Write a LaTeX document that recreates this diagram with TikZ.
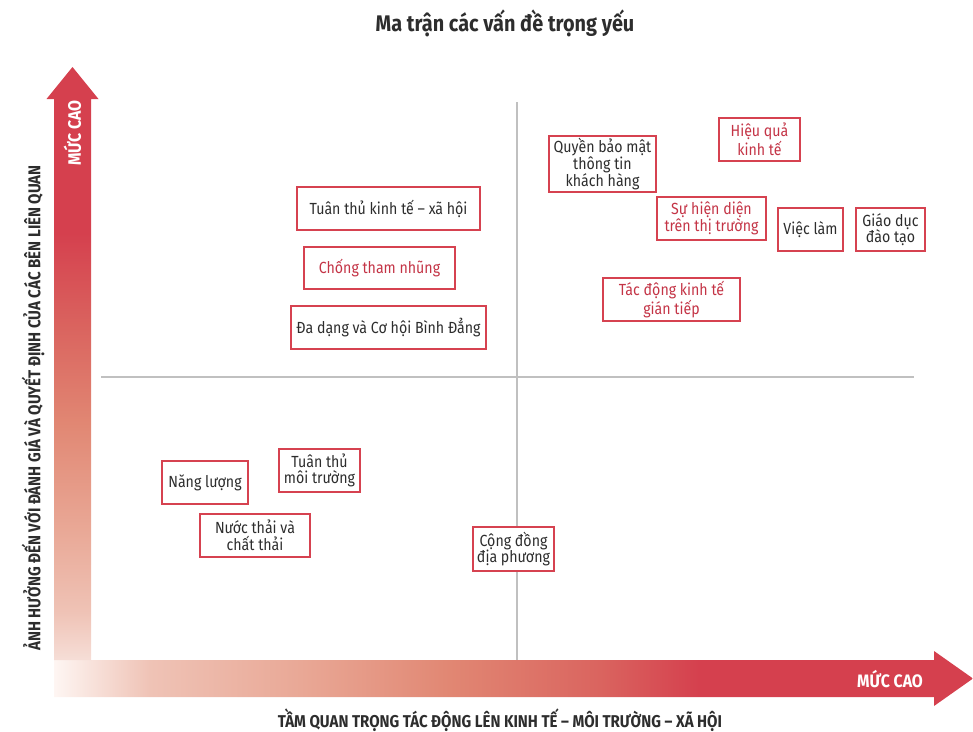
\documentclass[tikz,border=0pt]{standalone}
\usepackage{fontspec}
\setmainfont[FakeStretch=0.88]{Fira Sans}
\usepackage{xcolor}

\definecolor{axred}{RGB}{213,64,78}
\definecolor{fadecoral}{RGB}{218,100,95}
\definecolor{fadesalmon}{RGB}{225,135,115}
\definecolor{fadepink}{RGB}{233,168,150}
\definecolor{fadepale}{RGB}{239,195,182}
\definecolor{fadelight}{RGB}{246,222,215}
\definecolor{fadewhite}{RGB}{254,246,243}
\definecolor{boxred}{RGB}{214,66,80}
\definecolor{textdark}{RGB}{45,45,45}
\definecolor{textred}{RGB}{196,52,70}
\definecolor{splitgray}{RGB}{192,192,192}

% shadings for the two axis arrows (path box = 25bp..75bp)
\pgfdeclareverticalshading{yfade}{100bp}{color(0bp)=(fadelight); color(25bp)=(fadelight);
  color(29bp)=(fadepale); color(36bp)=(fadepink); color(45bp)=(fadesalmon);
  color(53bp)=(fadecoral); color(61bp)=(axred); color(100bp)=(axred)}
\pgfdeclarehorizontalshading{xfade}{100bp}{color(0bp)=(fadewhite); color(25bp)=(fadewhite);
  color(30.2bp)=(fadepale); color(38.4bp)=(fadepink); color(46.5bp)=(fadesalmon);
  color(54.7bp)=(fadecoral); color(60.1bp)=(axred); color(100bp)=(axred)}

\begin{document}
\begin{tikzpicture}[
  x=1pt, y=-1pt,
  issue/.style={draw=boxred, line width=1.1pt, fill=white, align=center,
                font=\fontsize{16.1}{16.7}\selectfont, text=textdark, inner sep=1pt},
  hot/.style={issue, text=textred},
  axlabel/.style={font=\fontsize{17.1}{17}\selectfont\bfseries, text=textdark},
  cao/.style={font=\fontsize{18}{18}\selectfont\bfseries, text=white},
  split/.style={draw=splitgray, line width=1.4pt},
]
\useasboundingbox (0,0) rectangle (973,731);

% === Title ===
\node[font=\fontsize{22.6}{22.6}\selectfont\bfseries, text=textdark] (title) at (505,23)
  {Ma trận các vấn đề trọng yếu};

% === Axis arrows ===
\shade[shading=xfade] (54,660) -- (934,660) -- (934,651) -- (973,678.5)
  -- (934,706) -- (934,697) -- (54,697) -- cycle;
\shade[shading=yfade] (54,660) -- (54,99) -- (46.5,99) -- (72.5,67)
  -- (98.5,99) -- (91,99) -- (91,660) -- cycle;

\node[cao, rotate=90] (ycao) at (72.5,133) {MỨC CAO};
\node[cao] (xcao) at (890,679) {MỨC CAO};

\node[axlabel, rotate=90] (ylabel) at (33,408)
  {ẢNH HƯỞNG ĐẾN VỚI ĐÁNH GIÁ VÀ QUYẾT ĐỊNH CỦA CÁC BÊN LIÊN QUAN};
\node[axlabel, inner sep=1pt] (xlabel) at (500,720.5)
  {TẦM QUAN TRỌNG TÁC ĐỘNG LÊN KINH TẾ – MÔI TRƯỜNG – XÃ HỘI};

% === Quadrant lines ===
\draw[split] (517,102) -- (517,660);
\draw[split] (101,377) -- (914,377);

% === Upper left ===
\node[issue, minimum width=183pt, minimum height=43pt] (kinhte) at (388.5,208.5)
  {Tuân thủ kinh tế – xã hội};
\node[hot, minimum width=151pt, minimum height=42pt] (thamnhung) at (379.5,268)
  {Chống tham nhũng};
\node[issue, minimum width=195pt, minimum height=43pt] (binhdang) at (388.5,327.5)
  {Đa dạng và Cơ hội Bình Đẳng};

% === Upper right ===
\node[issue, minimum width=107pt, minimum height=56pt] (baomat) at (602.5,164)
  {Quyền bảo mật\\thông tin\\khách hàng};
\node[hot, minimum width=81pt, minimum height=43pt] (hieuqua) at (759.5,139.5)
  {Hiệu quả\\kinh tế};
\node[hot, minimum width=109pt, minimum height=43pt] (hiendien) at (711.5,218.5)
  {Sự hiện diện\\trên thị trường};
\node[issue, minimum width=65pt, minimum height=43pt] (vieclam) at (810.5,229.5)
  {Việc làm};
\node[issue, minimum width=69pt, minimum height=43pt] (giaoduc) at (890.5,229.5)
  {Giáo dục\\đào tạo};
\node[hot, minimum width=137pt, minimum height=43pt] (giantiep) at (671.5,299.5)
  {Tác động kinh tế\\gián tiếp};

% === Lower half ===
\node[issue, minimum width=86pt, minimum height=43pt] (nangluong) at (205,482.5)
  {Năng lượng};
\node[issue, minimum width=81pt, minimum height=43pt] (moitruong) at (319.5,470.5)
  {Tuân thủ\\môi trường};
\node[issue, minimum width=110pt, minimum height=43pt] (nuocthai) at (255,535.5)
  {Nước thải và\\chất thải};
\node[issue, minimum width=81pt, minimum height=44pt] (congdong) at (513.5,549)
  {Cộng đồng\\địa phương};

\end{tikzpicture}
\end{document}
